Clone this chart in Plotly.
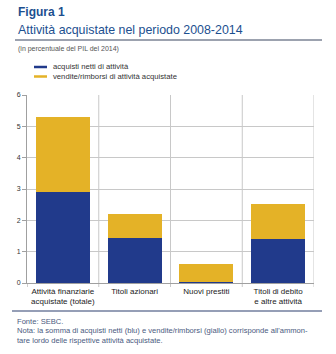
import plotly.graph_objects as go

categories = ["Attività finanziarie<br>acquistate (totale)", "Titoli azionari", "Nuovi prestiti", "Titoli di debito<br>e altre attività"]
acquisti_netti = [2.9, 1.43, 0.04, 1.42]
vendite_rimborsi = [2.4, 0.77, 0.56, 1.11]
series_names = ["acquisti netti di attività", "vendite/rimborsi di attività acquistate"]
y_ticks = [0, 1, 2, 3, 4, 5, 6]

BLUE = "#213a8b"
YELLOW = "#e4b227"
TITLE_BLUE = "#1c4f8f"
GRID = "#c8c8c8"
FONT = "Liberation Sans, Arial, sans-serif"

W, H = 336, 354
L, R, T, B = 27, 22, 95, 71

x = list(range(len(categories)))
fig = go.Figure()
fig.add_trace(go.Bar(x=x, y=acquisti_netti, name=series_names[0], marker_color=BLUE,
                     marker_line_width=0, width=0.75, showlegend=False))
fig.add_trace(go.Bar(x=x, y=vendite_rimborsi, name=series_names[1], marker_color=YELLOW,
                     marker_line_width=0, width=0.75, showlegend=False))

fig.update_layout(
    width=W, height=H, barmode="stack",
    margin=dict(l=L, r=R, t=T, b=B, pad=0),
    paper_bgcolor="white", plot_bgcolor="white",
    font=dict(family=FONT, size=8, color="#333333"),
)
fig.update_xaxes(range=[-0.5, 3.5], tickvals=x, ticktext=categories, showgrid=False,
                 showline=True, linecolor="#a0a0a0", linewidth=1, ticks="",
                 tickfont=dict(size=8, color="#222222"), fixedrange=True)
fig.update_yaxes(range=[0, 6], tickvals=y_ticks, showgrid=True, gridcolor=GRID, gridwidth=1,
                 showline=True, linecolor="#a0a0a0", linewidth=1, ticks="outside", ticklen=4,
                 tickcolor="#a0a0a0", tickfont=dict(size=7, color="#333333"), zeroline=False,
                 fixedrange=True)

ph = H - T - B
tick_px = 4 / ph
# vertical category separators and right border
for xv in [0.5, 1.5, 2.5, 3.5]:
    fig.add_shape(type="line", xref="x", yref="paper", x0=xv, x1=xv, y0=-tick_px, y1=1,
                  line=dict(color=GRID, width=1), layer="below")
fig.add_shape(type="line", xref="x", yref="paper", x0=-0.5, x1=-0.5, y0=-tick_px, y1=0,
              line=dict(color="#a0a0a0", width=1))

def px_x(p):
    return (p - L) / (W - L - R)

def px_y(p):
    return (H - B - p) / ph

# header
fig.add_annotation(text="<b>Figura 1</b>", xref="paper", yref="paper", x=px_x(16), y=px_y(12),
                   xanchor="left", yanchor="middle", showarrow=False,
                   font=dict(size=12, color=TITLE_BLUE, family=FONT))
fig.add_annotation(text="Attività acquistate nel periodo 2008-2014", xref="paper", yref="paper",
                   x=px_x(16), y=px_y(30), xanchor="left", yanchor="middle", showarrow=False,
                   font=dict(size=12.4, color=TITLE_BLUE, family=FONT))
fig.add_shape(type="line", xref="paper", yref="paper", x0=px_x(15), x1=px_x(322),
              y0=px_y(40), y1=px_y(40), line=dict(color="#3a4660", width=1.2))
fig.add_annotation(text="(in percentuale del PIL del 2014)", xref="paper", yref="paper",
                   x=px_x(16), y=px_y(49), xanchor="left", yanchor="middle", showarrow=False,
                   font=dict(size=7, color="#555555", family=FONT))

# legend
for i, (name, col) in enumerate(zip(series_names, [BLUE, YELLOW])):
    yy = 67 + i * 9.5
    fig.add_shape(type="line", xref="paper", yref="paper", x0=px_x(34), x1=px_x(47),
                  y0=px_y(yy), y1=px_y(yy), line=dict(color=col, width=2.5))
    fig.add_annotation(text=name, xref="paper", yref="paper", x=px_x(51), y=px_y(yy),
                       xanchor="left", yanchor="middle", showarrow=False,
                       font=dict(size=7.7, color="#333333", family=FONT))

# footer
fig.add_shape(type="line", xref="paper", yref="paper", x0=px_x(12), x1=px_x(322),
              y0=px_y(311), y1=px_y(311), line=dict(color="#2d3f6e", width=1.2))
foot_col = "#4a5a80"
fig.add_annotation(text="Fonte: SEBC.", xref="paper", yref="paper", x=px_x(15), y=px_y(321),
                   xanchor="left", yanchor="middle", showarrow=False,
                   font=dict(size=7.6, color=foot_col, family=FONT))
fig.add_annotation(text="Nota: la somma di acquisti netti (blu) e vendite/rimborsi (giallo) corrisponde all'ammon-",
                   xref="paper", yref="paper", x=px_x(15), y=px_y(330.5), xanchor="left",
                   yanchor="middle", showarrow=False, font=dict(size=7.6, color=foot_col, family=FONT))
fig.add_annotation(text="tare lordo delle rispettive attività acquistate.", xref="paper", yref="paper",
                   x=px_x(15), y=px_y(340), xanchor="left", yanchor="middle", showarrow=False,
                   font=dict(size=7.6, color=foot_col, family=FONT))

fig.write_html("out.html")
